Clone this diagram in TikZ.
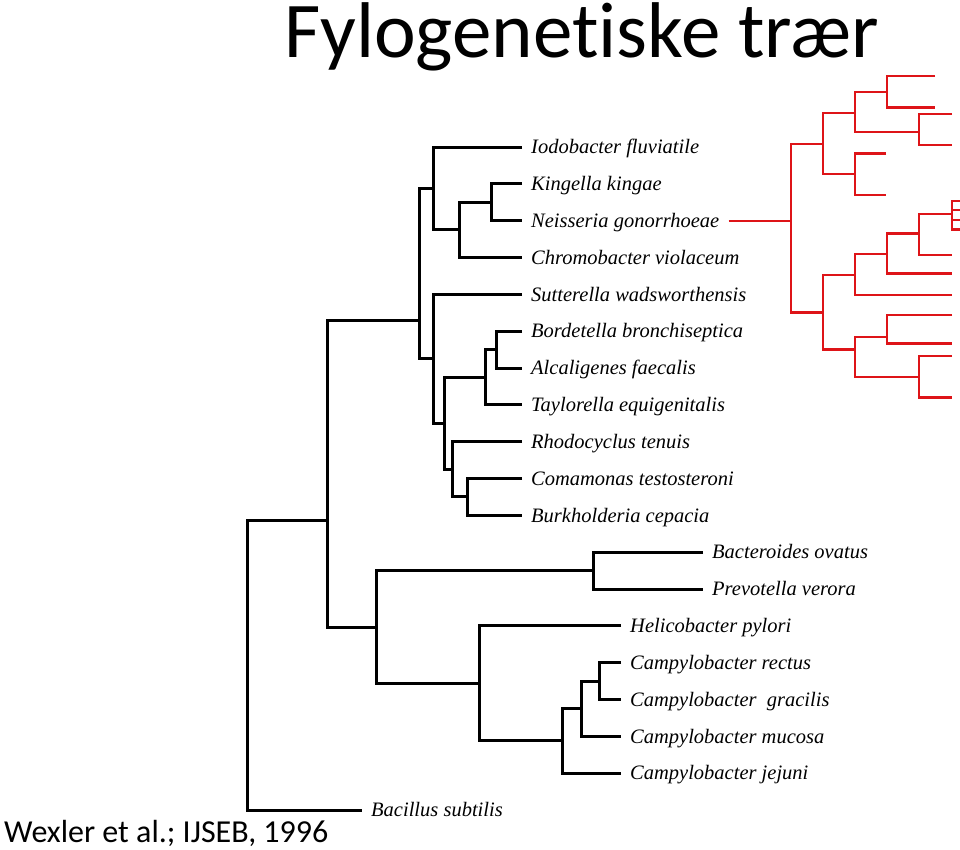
\documentclass[tikz,border=0pt]{standalone}
\usepackage{fontspec}
\setmainfont{Carlito}[Ligatures=NoCommon]
\newfontfamily\taxonfont{Liberation Serif}
\definecolor{treered}{RGB}{222,20,24}

\begin{document}
\begin{tikzpicture}[x=1pt, y=-1pt, line join=miter,
	branch/.style={line width=3pt, black},
	redbranch/.style={line width=2.4pt, treered},
	leaf/.style={anchor=west, inner xsep=9pt, inner ysep=0pt, text height=13.5pt, text depth=0pt,
		font=\taxonfont\itshape\fontsize{20.5}{24}\selectfont}]
	\useasboundingbox (0,0) rectangle (960,849);
	% Tiêu đề và nguồn
	\node[anchor=base west, inner sep=0pt, font=\fontsize{79}{80}\selectfont] (title) at (284,57) {Fylogenetiske trær};
	\node[anchor=base west, inner sep=0pt, font=\fontsize{32}{36}\selectfont] (ref) at (4,842) {Wexler et al.; IJSEB, 1996};
	% Các lá (tên loài)
	\node[leaf] (iodo) at (522,147) {Iodobacter fluviatile};
	\node[leaf] (king) at (522,183.8) {Kingella kingae};
	\node[leaf] (neis) at (522,220.7) {Neisseria gonorrhoeae};
	\node[leaf] (chrom) at (522,257.5) {Chromobacter violaceum};
	\node[leaf] (sutt) at (522,294.3) {Sutterella wadsworthensis};
	\node[leaf] (bord) at (522,331.2) {Bordetella bronchiseptica};
	\node[leaf] (alca) at (522,368) {Alcaligenes faecalis};
	\node[leaf] (tayl) at (522,404.8) {Taylorella equigenitalis};
	\node[leaf] (rhodo) at (522,441.6) {Rhodocyclus tenuis};
	\node[leaf] (coma) at (522,478.5) {Comamonas testosteroni};
	\node[leaf] (burk) at (522,515.3) {Burkholderia cepacia};
	\node[leaf] (bact) at (703,552.1) {Bacteroides ovatus};
	\node[leaf] (prev) at (703,589) {Prevotella verora};
	\node[leaf] (heli) at (621,625.8) {Helicobacter pylori};
	\node[leaf] (crect) at (621,662.6) {Campylobacter rectus};
	\node[leaf] (cgrac) at (621,699.5) {Campylobacter\ \ gracilis};
	\node[leaf] (cmuc) at (621,736.3) {Campylobacter mucosa};
	\node[leaf] (cjej) at (621,773.1) {Campylobacter jejuni};
	\node[leaf] (bacil) at (362,810) {Bacillus subtilis};
	% Các nút trong (cây đen)
	\coordinate (kn) at (491,202.3);
	\coordinate (knc) at (459,229.9);
	\coordinate (grpA) at (433,188.5);
	\coordinate (ba) at (496,349.6);
	\coordinate (bat) at (485,377.2);
	\coordinate (cb) at (467,496.9);
	\coordinate (rcb) at (452,469.3);
	\coordinate (grpD) at (444,423.2);
	\coordinate (grpC) at (433,358.8);
	\coordinate (grpB) at (419,320);
	\coordinate (bp) at (593,570.5);
	\coordinate (lr) at (599,681);
	\coordinate (lrm) at (581,708.7);
	\coordinate (lrmj) at (562,740.9);
	\coordinate (hc) at (479,683.4);
	\coordinate (grpH) at (376,627);
	\coordinate (grpR) at (327,520);
	\coordinate (root) at (247,665);
	% Vẽ cây đen
	\draw[branch] (king.west) -| (kn) |- (neis.west);
	\draw[branch] (kn) -| (knc) |- (chrom.west);
	\draw[branch] (iodo.west) -| (grpA) |- (knc);
	\draw[branch] (bord.west) -| (ba) |- (alca.west);
	\draw[branch] (ba) -| (bat) |- (tayl.west);
	\draw[branch] (coma.west) -| (cb) |- (burk.west);
	\draw[branch] (rhodo.west) -| (rcb) |- (cb);
	\draw[branch] (bat) -| (grpD) |- (rcb);
	\draw[branch] (sutt.west) -| (grpC) |- (grpD);
	\draw[branch] (grpA) -| (grpB) |- (grpC);
	\draw[branch] (bact.west) -| (bp) |- (prev.west);
	\draw[branch] (crect.west) -| (lr) |- (cgrac.west);
	\draw[branch] (lr) -| (lrm) |- (cmuc.west);
	\draw[branch] (lrm) -| (lrmj) |- (cjej.west);
	\draw[branch] (heli.west) -| (hc) |- (lrmj);
	\draw[branch] (bp) -| (grpH) |- (hc);
	\draw[branch] (grpB) -| (grpR) |- (grpH);
	\draw[branch] (grpR) -| (root) |- (bacil.west);
	% Các nút của cây đỏ
	\coordinate (r0) at (791,220.7);
	\coordinate (r1) at (823,144);
	\coordinate (r11) at (855,112.7);
	\coordinate (r111) at (887,91.7);
	\coordinate (r112) at (919,131.7);
	\coordinate (r12) at (855,174);
	\coordinate (r2) at (823,312.3);
	\coordinate (r21) at (855,275);
	\coordinate (r211) at (887,254);
	\coordinate (r2111) at (919,233.3);
	\coordinate (comb) at (952,214);
	\coordinate (r22) at (855,349.3);
	\coordinate (r221) at (887,336.7);
	\coordinate (r222) at (919,376.7);
	% Đầu mút tự do của cây đỏ
	\coordinate (e1) at (935,76);
	\coordinate (e2) at (935,107.3);
	\coordinate (e3) at (952,114);
	\coordinate (e4) at (952,145);
	\coordinate (e5) at (886,153.3);
	\coordinate (e6) at (886,195);
	\coordinate (e7) at (952,255);
	\coordinate (e8) at (952,273.3);
	\coordinate (e9) at (952,295);
	\coordinate (e10) at (952,315);
	\coordinate (e11) at (952,343.3);
	\coordinate (e12) at (952,356);
	\coordinate (e13) at (952,397.3);
	\coordinate (t1) at (960,200.7);
	\coordinate (t2) at (960,210.2);
	\coordinate (t3) at (960,219.8);
	\coordinate (t4) at (960,229.3);
	% Vẽ cây đỏ
	\draw[redbranch] (neis.east) -- (r0);
	\draw[redbranch] (r1) -| (r0) |- (r2);
	\draw[redbranch] (r11) -| (r1) |- (r12);
	\draw[redbranch] (r111) -| (r11) |- (r112);
	\draw[redbranch] (e1) -| (r111) |- (e2);
	\draw[redbranch] (e3) -| (r112) |- (e4);
	\draw[redbranch] (e5) -| (r12) |- (e6);
	\draw[redbranch] (r21) -| (r2) |- (r22);
	\draw[redbranch] (r211) -| (r21) |- (e9);
	\draw[redbranch] (r2111) -| (r211) |- (e8);
	\draw[redbranch] (comb) -| (r2111) |- (e7);
	\draw[redbranch] (t1) -| (comb) |- (t4);
	\draw[redbranch] (comb |- t2) -- (t2);
	\draw[redbranch] (comb |- t3) -- (t3);
	\draw[redbranch] (r221) -| (r22) |- (r222);
	\draw[redbranch] (e10) -| (r221) |- (e11);
	\draw[redbranch] (e12) -| (r222) |- (e13);
\end{tikzpicture}
\end{document}
